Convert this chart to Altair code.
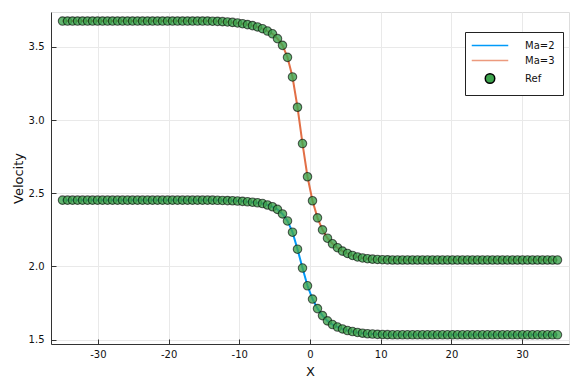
import altair as alt
import numpy as np
import pandas as pd

# sampling grid (100 evenly spaced points from -35 to 35)
x_grid = np.linspace(-35, 35, 100)

# Ma=3 profile (upper curve)
ma3_values = [3.677] * 30 + [
    3.676, 3.675, 3.673, 3.671, 3.668, 3.664, 3.659, 3.653, 3.646, 3.637,
    3.625, 3.609, 3.590, 3.557, 3.511, 3.429, 3.295, 3.088, 2.840, 2.613,
    2.449, 2.332, 2.250, 2.193, 2.155, 2.128, 2.105, 2.089, 2.075, 2.065,
    2.058, 2.053, 2.050, 2.048, 2.046, 2.045,
] + [2.044] * 34

# Ma=2 profile (lower curve)
ma2_values = [2.453] * 30 + [
    2.453, 2.452, 2.451, 2.450, 2.449, 2.447, 2.445, 2.442, 2.439, 2.435,
    2.430, 2.420, 2.408, 2.390, 2.359, 2.311, 2.234, 2.118, 1.989, 1.868,
    1.777, 1.712, 1.664, 1.628, 1.603, 1.586, 1.573, 1.562, 1.555, 1.549,
    1.544, 1.540, 1.538, 1.536, 1.535, 1.534,
] + [1.533] * 34

series_names = ["Ma=2", "Ma=3", "Ref"]
fill_colors = ["#009af9", "#e26f46", "#3da44d"]
stroke_colors = ["#009af9", "#ec9a7e", "#000000"]
line_path = "M-3.69,-0.02L3.69,-0.02L3.69,0.02L-3.69,0.02Z"
shapes = [line_path, line_path, "circle"]
tick_vals_x = [-30, -20, -10, 0, 10, 20, 30]
tick_vals_y = [1.5, 2.0, 2.5, 3.0, 3.5]

lines_df = pd.concat([
    pd.DataFrame({"x": x_grid, "v": ma2_values, "series": "Ma=2"}),
    pd.DataFrame({"x": x_grid, "v": ma3_values, "series": "Ma=3"}),
], ignore_index=True)
ref_df = pd.concat([
    pd.DataFrame({"x": x_grid, "v": ma2_values, "series": "Ref"}),
    pd.DataFrame({"x": x_grid, "v": ma3_values, "series": "Ref"}),
], ignore_index=True)

xs = alt.Scale(domain=[-36.63, 36.63], nice=False, zero=False)
ys = alt.Scale(domain=[1.470, 3.739], nice=False, zero=False)

main_x = alt.Axis(values=tick_vals_x, labelExpr="datum.value + ''", ticks=False,
                  grid=True, gridColor="#e9e9e9", gridWidth=1,
                  domainColor="#333333", domainWidth=1,
                  labelFontSize=10, labelColor="#111111", labelPadding=5,
                  title="X", titleFontSize=13, titleFontWeight="normal",
                  titleColor="#111111", titlePadding=6)
main_y = alt.Axis(values=tick_vals_y, format=".1f", ticks=False,
                  grid=True, gridColor="#e9e9e9", gridWidth=1,
                  domainColor="#333333", domainWidth=1,
                  labelFontSize=10, labelColor="#111111", labelPadding=7,
                  title="Velocity", titleFontSize=13, titleFontWeight="normal",
                  titleColor="#111111", titlePadding=3)
tick_x = alt.Axis(orient="bottom", values=tick_vals_x, offset=-5, domain=False,
                  labels=False, grid=False, ticks=True, tickSize=5,
                  tickColor="#333333", title=None)
tick_y = alt.Axis(orient="left", values=tick_vals_y, offset=-5, domain=False,
                  labels=False, grid=False, ticks=True, tickSize=5,
                  tickColor="#333333", title=None)

legend = alt.Legend(orient="none", legendX=414, legendY=20, title=None,
                    strokeColor="#222222", fillColor="white", padding=8,
                    cornerRadius=0, labelFontSize=10, labelColor="#111111",
                    symbolSize=90, symbolOffset=11.5, labelOffset=29.5,
                    rowPadding=4)

lines = alt.Chart(lines_df).mark_line(strokeWidth=2).encode(
    x=alt.X("x:Q", scale=xs, axis=main_x),
    y=alt.Y("v:Q", scale=ys, axis=main_y),
    color=alt.Color("series:N",
                    scale=alt.Scale(domain=series_names[:2], range=fill_colors[:2]),
                    legend=None),
)

points = alt.Chart(ref_df).mark_point(filled=True, size=72, fillOpacity=0.8,
                                      strokeOpacity=0.6, strokeWidth=1.1).encode(
    x=alt.X("x:Q", scale=xs, axis=None),
    y=alt.Y("v:Q", scale=ys, axis=None),
    fill=alt.Fill("series:N", scale=alt.Scale(domain=series_names, range=fill_colors),
                  legend=legend),
    stroke=alt.Stroke("series:N", scale=alt.Scale(domain=series_names, range=stroke_colors),
                      legend=legend),
    shape=alt.Shape("series:N", scale=alt.Scale(domain=series_names, range=shapes),
                    legend=legend),
)

tick_layer = alt.Chart(ref_df).mark_point(opacity=0).encode(
    x=alt.X("x:Q", scale=xs, axis=tick_x),
    y=alt.Y("v:Q", scale=ys, axis=tick_y),
)

chart = alt.layer(lines, points, tick_layer).resolve_axis(
    x="independent", y="independent"
).properties(
    width=518, height=332,
    autosize=alt.AutoSizeParams(type="none"),
    padding={"left": 43, "top": 4, "right": 4, "bottom": 36},
    background="white",
).configure_view(stroke=None).configure(font="DejaVu Sans")

chart.save("out.html", embed_options={"renderer": "svg", "actions": False})
